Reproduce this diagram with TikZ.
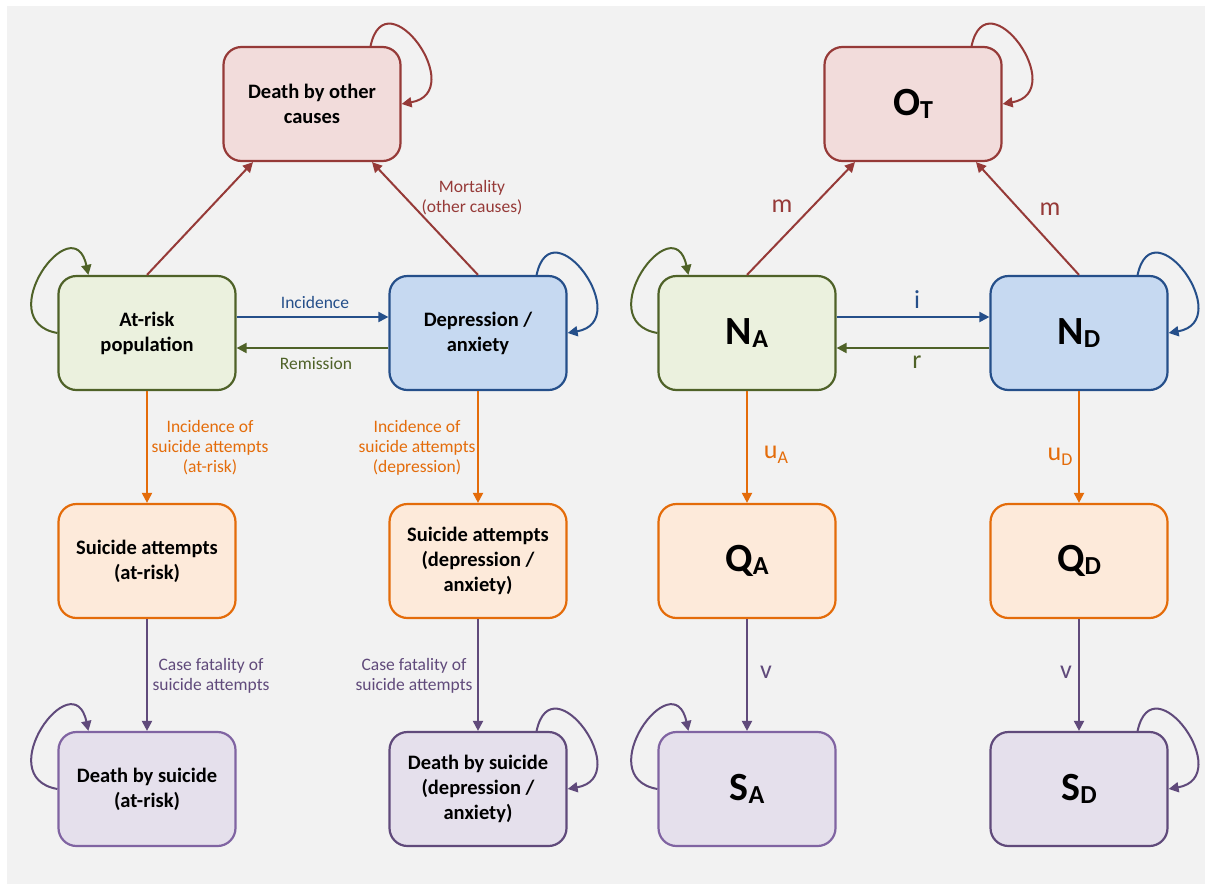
\documentclass[tikz,border=0pt]{standalone}
\usepackage{fontspec}
\setmainfont{Carlito}
\usetikzlibrary{arrows.meta}

\definecolor{panel}{HTML}{F2F2F2}
\definecolor{redline}{HTML}{963A38}
\definecolor{redfill}{HTML}{F2DCDB}
\definecolor{greenline}{HTML}{4F6228}
\definecolor{greenfill}{HTML}{EBF1DE}
\definecolor{blueline}{HTML}{254F8A}
\definecolor{bluefill}{HTML}{C6D9F1}
\definecolor{orangeline}{HTML}{E46C0A}
\definecolor{orangefill}{HTML}{FDEADA}
\definecolor{purpleline}{HTML}{604A7B}
\definecolor{purplelight}{HTML}{8064A2}
\definecolor{purplefill}{HTML}{E5E0EC}

\newcommand{\cmpt}[2]{{\fontsize{40}{44}\selectfont\bfseries #1\raisebox{-3pt}{\fontsize{26}{30}\selectfont #2}}}
\newcommand{\rate}[2]{#1\raisebox{-5pt}{\fontsize{18}{20}\selectfont #2}}

\tikzset{
  compartment/.style={draw, rounded corners=18pt, line width=2.2pt,
    minimum width=177pt, minimum height=114pt, align=center,
    font=\fontsize{20.5}{25}\selectfont\bfseries},
  redbox/.style={compartment, draw=redline, fill=redfill},
  greenbox/.style={compartment, draw=greenline, fill=greenfill},
  bluebox/.style={compartment, draw=blueline, fill=bluefill},
  orangebox/.style={compartment, draw=orangeline, fill=orangefill},
  purplebox/.style={compartment, draw=purplelight, fill=purplefill},
  darkpurplebox/.style={compartment, draw=purpleline, fill=purplefill},
  flow/.style={line width=2pt, -{Triangle[length=10pt,width=10pt]}},
  lab/.style={font=\fontsize{17.5}{20}\selectfont, align=center},
  symlab/.style={font=\fontsize{26}{30}\selectfont},
}

\begin{document}
\begin{tikzpicture}[x=1pt,y=-1pt]
  \useasboundingbox (0,0) rectangle (1205,884);
  \fill[panel] (7,6) rectangle (1205,884);

  % left panel: compartments in words
  \node[redbox] (dother) at (312,104) {Death by other\\causes};
  \node[greenbox] (ar) at (147,333) {At-risk\\population};
  \node[bluebox] (dep) at (478,333) {Depression /\\anxiety};
  \node[orangebox] (sar) at (147,561) {Suicide attempts\\(at-risk)};
  \node[orangebox] (sdep) at (478,561) {Suicide attempts\\(depression /\\anxiety)};
  \node[purplebox] (dsar) at (147,789) {Death by suicide\\(at-risk)};
  \node[darkpurplebox] (dsdep) at (478,789) {Death by suicide\\(depression /\\anxiety)};

  \draw[flow,redline] (ar.north) -- ([xshift=-59pt]dother.south);
  \draw[flow,redline] (dep.north) -- ([xshift=60pt]dother.south);
  \draw[flow,blueline] ([yshift=16pt]ar.east) -- ([yshift=16pt]dep.west);
  \draw[flow,greenline] ([yshift=-15pt]dep.west) -- ([yshift=-15pt]ar.east);
  \draw[flow,orangeline] (ar) -- (sar);
  \draw[flow,orangeline] (dep) -- (sdep);
  \draw[flow,purpleline] (sar) -- (dsar);
  \draw[flow,purpleline] (sdep) -- (dsdep);

  \draw[flow,redline] ([xshift=-31pt]dother.north east) .. controls +(15,-70) and +(68,-12) .. (dother.east);
  \draw[flow,greenline] (ar.west) .. controls +(-68,-12) and +(-15,-70) .. ([xshift=31pt]ar.north west);
  \draw[flow,blueline] ([xshift=-31pt]dep.north east) .. controls +(15,-70) and +(68,-12) .. (dep.east);
  \draw[flow,purpleline] (dsar.west) .. controls +(-68,-12) and +(-15,-70) .. ([xshift=31pt]dsar.north west);
  \draw[flow,purpleline] ([xshift=-31pt]dsdep.north east) .. controls +(15,-70) and +(68,-12) .. (dsdep.east);

  \node[lab,text=redline] (lmort) at (472,198) {Mortality\\(other causes)};
  \node[lab,text=blueline] (linc) at (315,302) {Incidence};
  \node[lab,text=greenline] (lrem) at (316,364) {Remission};
  \node[lab,text=orangeline] (lsuiar) at (210,448) {Incidence of\\suicide attempts\\(at-risk)};
  \node[lab,text=orangeline] (lsuidep) at (417,448) {Incidence of\\suicide attempts\\(depression)};
  \node[lab,text=purpleline] (lcfar) at (211,676) {Case fatality of\\suicide attempts};
  \node[lab,text=purpleline] (lcfdep) at (414,676) {Case fatality of\\suicide attempts};

  % right panel: symbols
  \node[redbox] (ot) at (913,104) {\cmpt{O}{T}};
  \node[greenbox] (na) at (747,333) {\cmpt{N}{A}};
  \node[bluebox] (nd) at (1079,333) {\cmpt{N}{D}};
  \node[orangebox] (qa) at (747,561) {\cmpt{Q}{A}};
  \node[orangebox] (qd) at (1079,561) {\cmpt{Q}{D}};
  \node[purplebox] (sa) at (747,789) {\cmpt{S}{A}};
  \node[darkpurplebox] (sd) at (1079,789) {\cmpt{S}{D}};

  \draw[flow,redline] (na.north) -- ([xshift=-58pt]ot.south);
  \draw[flow,redline] (nd.north) -- ([xshift=63pt]ot.south);
  \draw[flow,blueline] ([yshift=16pt]na.east) -- ([yshift=16pt]nd.west);
  \draw[flow,greenline] ([yshift=-15pt]nd.west) -- ([yshift=-15pt]na.east);
  \draw[flow,orangeline] (na) -- (qa);
  \draw[flow,orangeline] (nd) -- (qd);
  \draw[flow,purpleline] (qa) -- (sa);
  \draw[flow,purpleline] (qd) -- (sd);

  \draw[flow,redline] ([xshift=-31pt]ot.north east) .. controls +(15,-70) and +(68,-12) .. (ot.east);
  \draw[flow,greenline] (na.west) .. controls +(-68,-12) and +(-15,-70) .. ([xshift=31pt]na.north west);
  \draw[flow,blueline] ([xshift=-31pt]nd.north east) .. controls +(15,-70) and +(68,-12) .. (nd.east);
  \draw[flow,purpleline] (sa.west) .. controls +(-68,-12) and +(-15,-70) .. ([xshift=31pt]sa.north west);
  \draw[flow,purpleline] ([xshift=-31pt]sd.north east) .. controls +(15,-70) and +(68,-12) .. (sd.east);

  \node[symlab,text=redline] (lm1) at (782,206) {m};
  \node[symlab,text=redline] (lm2) at (1050,209) {m};
  \node[symlab,text=blueline] (li) at (917,300) {i};
  \node[symlab,text=greenline] (lr) at (917,362) {r};
  \node[symlab,text=orangeline] (lua) at (776,455) {\rate{u}{A}};
  \node[symlab,text=orangeline] (lud) at (1060,457) {\rate{u}{D}};
  \node[symlab,text=purpleline] (lva) at (766,672) {v};
  \node[symlab,text=purpleline] (lvd) at (1066,672) {v};
\end{tikzpicture}
\end{document}
